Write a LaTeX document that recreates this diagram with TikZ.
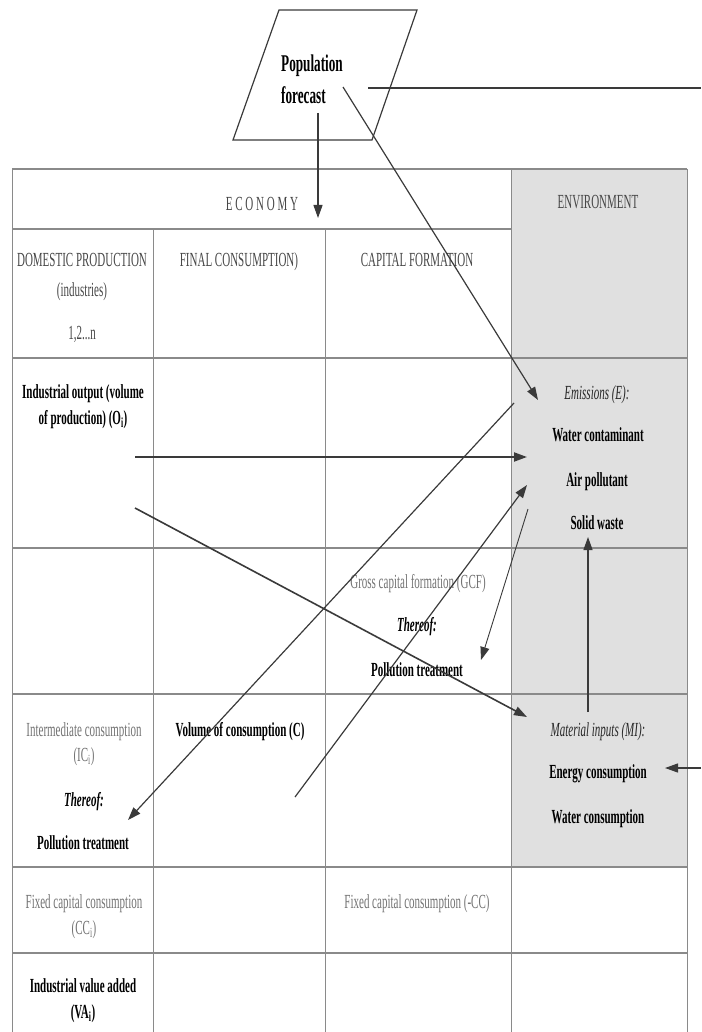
\documentclass[tikz,border=0pt]{standalone}
\usepackage{fontspec}
\setmainfont{Liberation Serif}[FakeStretch=0.55]
\usetikzlibrary{arrows.meta}
\definecolor{envgray}{HTML}{E0E0E0}
\definecolor{gridgray}{HTML}{8A8A8A}
\definecolor{linedark}{HTML}{3A3A3A}
\begin{document}
\begin{tikzpicture}[x=1pt,y=-1pt,
  txt/.style={inner sep=0pt, anchor=base, font=\fontsize{20}{26}\selectfont},
  hd/.style={txt, text=black!72},
  lt/.style={txt, text=black!55},
  bd/.style={txt, font=\fontsize{20}{26}\selectfont\bfseries},
  itl/.style={txt, font=\fontsize{20}{26}\selectfont\itshape, text=black!85},
  bit/.style={txt, font=\fontsize{20}{26}\selectfont\bfseries\itshape},
  popfont/.style={inner sep=0pt, anchor=base west, font=\fontsize{24}{28}\selectfont\bfseries},
  rowline/.style={draw=gridgray, line width=1.8pt},
  colline/.style={draw=gridgray, line width=1pt},
  conn/.style={draw=linedark, line width=1.2pt},
  thick conn/.style={draw=linedark, line width=2pt},
  tip/.style={-{Triangle[length=13pt,width=9pt]}}
]
\useasboundingbox (0,0) rectangle (701,1032);

% environment column shading
\fill[envgray] (511,169) rectangle (687,867);

% grid
\draw[rowline] (12,169) -- (687,169);
\draw[rowline] (12,229) -- (511,229);
\foreach \yy in {358,548,694,867,953} {\draw[rowline] (12,\yy) -- (687,\yy);}
\draw[colline] (12,169) -- (12,1032);
\draw[colline] (687,169) -- (687,1032);
\draw[colline] (511,169) -- (511,1032);
\draw[colline] (153,229) -- (153,1032);
\draw[colline] (325,229) -- (325,1032);

% population parallelogram
\draw[draw=linedark, line width=1.2pt] (279,10) -- (417,10) -- (372,140) -- (233,140) -- cycle;
\node[popfont] (pop1) at (281,72) {Population};
\node[popfont] (pop2) at (281,104) {forecast};

% header row
\node[hd] (econ) at (262,211) {E C O N O M Y};
\node[hd] (env) at (598,209) {ENVIRONMENT};

% row 2
\node[hd] (dp1) at (82,266) {DOMESTIC PRODUCTION};
\node[hd] (dp2) at (82,296) {(industries)};
\node[hd] (dp3) at (82,339) {1,2...n};
\node[hd] (fc) at (239,266) {FINAL CONSUMPTION)};
\node[hd] (cf) at (417,266) {CAPITAL FORMATION};

% row 3
\node[bd] (io1) at (83,398) {Industrial output (volume};
\node[bd] (io2) at (83,424) {of production) (O\textsubscript{i})};
\node[itl] (em) at (597,399) {Emissions (E):};
\node[bd] (wc) at (598,441) {Water contaminant};
\node[bd] (ap) at (597,486) {Air pollutant};
\node[bd] (sw) at (597,529) {Solid waste};

% row 4
\node[lt] (gcf) at (418,588) {Gross capital formation (GCF)};
\node[bit] (th1) at (417,631) {Thereof:};
\node[bd] (pt1) at (417,676) {Pollution treatment};

% row 5
\node[lt] (ic1) at (84,736) {Intermediate consumption};
\node[lt] (ic2) at (84,761) {(IC\textsubscript{i})};
\node[bit] (th2) at (84,806) {Thereof:};
\node[bd] (pt2) at (83,849) {Pollution treatment};
\node[bd] (voc) at (240,736) {Volume of consumption (C)};
\node[itl] (mi) at (598,736) {Material inputs (MI):};
\node[bd] (ec) at (598,778) {Energy consumption};
\node[bd] (wcons) at (598,823) {Water consumption};

% row 6
\node[lt] (fcc1) at (84,908) {Fixed capital consumption};
\node[lt] (fcc2) at (84,934) {(CC\textsubscript{i})};
\node[lt] (fcc3) at (417,908) {Fixed capital consumption (-CC)};

% row 7
\node[bd] (va1) at (83,992) {Industrial value added};
\node[bd] (va2) at (83,1018) {(VA\textsubscript{i})};

% connector end points
\coordinate (a0) at (318,113);  \coordinate (a1) at (318,218);
\coordinate (b0) at (343,87);   \coordinate (b1) at (538,400);
\coordinate (c0) at (368,88);   \coordinate (c1) at (701,88);
\coordinate (d0) at (135,457);  \coordinate (d1) at (527,457);
\coordinate (e0) at (135,508);  \coordinate (e1) at (527,717);
\coordinate (f0) at (514,403);  \coordinate (f1) at (128,820);
\coordinate (g0) at (295,797);  \coordinate (g1) at (527,485);
\coordinate (h0) at (528,509);  \coordinate (h1) at (481,660);
\coordinate (i0) at (588,712);  \coordinate (i1) at (588,537);
\coordinate (j0) at (701,768);  \coordinate (j1) at (665,768);

% connectors
\draw[conn, tip] (a0) -- (a1);
\draw[conn, tip] (b0) -- (b1);
\draw[conn] (c0) -- (c1);
\draw[thick conn, tip] (d0) -- (d1);
\draw[conn, line width=1.6pt, tip] (e0) -- (e1);
\draw[conn, tip] (f0) -- (f1);
\draw[conn, tip] (g0) -- (g1);
\draw[conn, line width=0.9pt, tip] (h0) -- (h1);
\draw[conn, tip] (i0) -- (i1);
\draw[conn, tip] (j0) -- (j1);
\end{tikzpicture}
\end{document}
